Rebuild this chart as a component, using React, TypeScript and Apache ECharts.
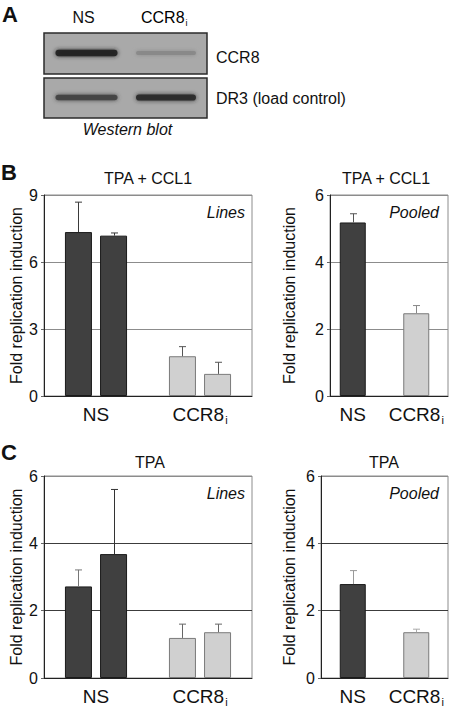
import React, { useEffect, useRef } from 'react';
import * as echarts from 'echarts';

const FONT = "'Liberation Sans', Arial, Helvetica, sans-serif";

// ---------- data ----------
const categories = ['NS', 'CCR8i'];
const yAxisName = 'Fold replication induction';

// Panel A: western blot (lane/row labels, band darkness 0..1)
const blotLanes = ['NS', 'CCR8i'];
const blotRows = ['CCR8', 'DR3 (load control)'];
const blotBandDarkness = [
  [0.95, 0.22],
  [0.72, 0.9],
];

// Panel B: TPA + CCL1
const bTitle = 'TPA + CCL1';
const bLinesTicks = [0, 3, 6, 9];
const bLine1 = [7.34, 1.78];
const bLine1Err = [1.34, 0.43];
const bLine2 = [7.18, 0.99];
const bLine2Err = [0.12, 0.52];
const bPooledTicks = [0, 2, 4, 6];
const bPooled = [5.18, 2.47];
const bPooledErr = [0.26, 0.23];

// Panel C: TPA
const cTitle = 'TPA';
const cLinesTicks = [0, 2, 4, 6];
const cLine1 = [2.72, 1.19];
const cLine1Err = [0.49, 0.41];
const cLine2 = [3.68, 1.36];
const cLine2Err = [1.92, 0.24];
const cPooledTicks = [0, 2, 4, 6];
const cPooled = [2.79, 1.36];
const cPooledErr = [0.4, 0.09];

// ---------- styles ----------
const FILL = ['#404040', '#d0d0d0'];
const BORDER = ['#1a1a1a', '#7a7a7a'];
const TEXT = '#111';

function catLabel(v: string) {
  return v === 'CCR8i' ? '{m|CCR8}{s|i}' : '{m|' + v + '}';
}

function catRich(size: number) {
  return {
    m: { fontSize: size, color: TEXT, fontFamily: FONT, lineHeight: size + 3 },
    s: {
      fontSize: Math.round(size * 0.58),
      color: TEXT,
      fontFamily: FONT,
      lineHeight: Math.round(size * 0.58),
      verticalAlign: 'bottom',
      padding: [0, 0, 0, 1],
    },
  };
}

function xCat(gridIndex: number, showLabel: boolean, showLine: boolean) {
  return {
    type: 'category',
    gridIndex,
    data: categories,
    axisTick: { show: false },
    axisLine: { show: showLine, lineStyle: { color: '#222', width: 1 } },
    axisLabel: {
      show: showLabel,
      interval: 0,
      hideOverlap: false,
      margin: 7,
      formatter: catLabel,
      rich: catRich(19),
    },
    splitLine: { show: false },
  };
}

function yVal(gridIndex: number, ticks: number[], nameGap: number, splitColors: string[] | string, show = true) {
  return {
    type: 'value',
    gridIndex,
    show,
    min: ticks[0],
    max: ticks[ticks.length - 1],
    interval: ticks[1] - ticks[0],
    name: show ? yAxisName : '',
    nameLocation: 'middle',
    nameGap,
    nameTextStyle: { fontSize: 16, color: TEXT, fontFamily: FONT },
    axisLine: { show: true, lineStyle: { color: '#222', width: 1 } },
    axisTick: { show: true, length: 3, lineStyle: { color: '#666' } },
    axisLabel: { fontSize: 16, color: TEXT, fontFamily: FONT, margin: 6 },
    splitLine: { show: true, lineStyle: { color: splitColors, width: 1 } },
  };
}

function barSeries(name: string, values: number[], xAxisIndex: number, barWidth: number) {
  return {
    type: 'bar',
    name,
    xAxisIndex,
    yAxisIndex: xAxisIndex,
    barWidth,
    barGap: '30%',
    z: 3,
    data: values.map((v, i) => ({
      value: v,
      itemStyle: { color: FILL[i], borderColor: BORDER[i], borderWidth: 1 },
    })),
  };
}

function errSeries(values: number[], errs: number[], xAxisIndex: number, offset: number, colors: string[]) {
  return {
    type: 'custom',
    xAxisIndex,
    yAxisIndex: xAxisIndex,
    z: 4,
    silent: true,
    data: values.map((v, i) => [i, v, v + errs[i]]),
    renderItem: (params: any, api: any) => {
      const cat = api.value(0);
      const p0 = api.coord([cat, api.value(1)]);
      const p1 = api.coord([cat, api.value(2)]);
      const x = Math.round(p0[0] + offset) + 0.5;
      const col = colors[params.dataIndex];
      return {
        type: 'group',
        children: [
          { type: 'line', shape: { x1: x, y1: p0[1], x2: x, y2: p1[1] }, style: { stroke: col, lineWidth: 1 } },
          { type: 'line', shape: { x1: x - 3.5, y1: p1[1], x2: x + 3.5, y2: p1[1] }, style: { stroke: col, lineWidth: 1 } },
        ],
      };
    },
  };
}

function txt(text: string, x: number, y: number, size: number, align: string, extra: any = {}) {
  return {
    type: 'text',
    x,
    y,
    z: 10,
    style: {
      text,
      fontSize: size,
      fontFamily: FONT,
      fill: TEXT,
      align,
      verticalAlign: 'middle',
      ...extra,
    },
  };
}

function buildBlot() {
  const els: any[] = [];
  const boxX = 44;
  const boxW = 163;
  const boxY = [33, 78];
  const boxH = [41, 40];
  const laneX = [86.5, 166];
  const laneW = [62, 60];
  blotRows.forEach((row, r) => {
    els.push({
      type: 'rect',
      shape: { x: boxX, y: boxY[r], width: boxW, height: boxH[r] },
      style: { fill: '#a9a9a9', stroke: '#2b2b2b', lineWidth: 1.5 },
      z: 5,
    });
    blotLanes.forEach((_, l) => {
      const d = blotBandDarkness[r][l];
      const g = Math.round(168 - d * 140);
      const col = `rgb(${g},${g},${g})`;
      const h = 3 + d * 3.5;
      const cy = boxY[r] + boxH[r] / 2 - 0.5;
      els.push({
        type: 'rect',
        shape: { x: laneX[l] - laneW[l] / 2, y: cy - h / 2, width: laneW[l], height: h, r: h / 2 },
        style: { fill: col, shadowBlur: 4, shadowColor: col, opacity: 0.95 },
        z: 6,
      });
    });
    els.push(txt(row, 216, r === 0 ? 57 : 98.5, 16, 'left'));
  });
  // lane headers
  els.push(txt(blotLanes[0], 83.5, 17.5, 16, 'center'));
  els.push({
    type: 'text',
    x: 141,
    y: 17.5,
    z: 10,
    style: {
      text: catLabel(blotLanes[1]),
      align: 'left',
      verticalAlign: 'middle',
      rich: catRich(16),
    },
  });
  els.push(txt('Western blot', 127.5, 129, 16, 'center', { fontStyle: 'italic' }));
  return els;
}

export default function App() {
  const ref = useRef<HTMLDivElement>(null);

  useEffect(() => {
    document.body.style.margin = '0';
    if (!ref.current) return;
    const chart = echarts.init(ref.current, undefined, { renderer: 'svg' });

    const bGray = '#8c8c8c';
    const cSplit = ['#3c3c3c', '#3c3c3c', '#3c3c3c', '#8c8c8c'];
    const gridStyle = { show: true, borderColor: bGray, borderWidth: 1, backgroundColor: 'transparent' };

    const option: any = {
      animation: false,
      backgroundColor: '#ffffff',
      textStyle: { fontFamily: FONT },
      grid: [
        { left: 44, top: 195, width: 208, height: 201, ...gridStyle },
        { left: 330, top: 195, width: 118, height: 201, ...gridStyle },
        { left: 321, top: 195, width: 127, height: 201, show: false },
        { left: 44, top: 476, width: 208, height: 202, ...gridStyle },
        { left: 321, top: 476, width: 127, height: 202, ...gridStyle },
      ],
      xAxis: [
        xCat(0, true, true),
        xCat(1, false, true),
        xCat(2, true, false),
        xCat(3, true, true),
        xCat(4, true, true),
      ],
      yAxis: [
        yVal(0, bLinesTicks, 20, bGray),
        yVal(1, bPooledTicks, 33, bGray),
        yVal(2, bPooledTicks, 0, bGray, false),
        yVal(3, cLinesTicks, 20, cSplit),
        yVal(4, cPooledTicks, 24, cSplit),
      ],
      series: [
        barSeries('B line 1', bLine1, 0, 27),
        barSeries('B line 2', bLine2, 0, 27),
        errSeries(bLine1, bLine1Err, 0, -17.55, ['#3a3a3a', '#555']),
        errSeries(bLine2, bLine2Err, 0, 17.55, ['#3a3a3a', '#555']),
        barSeries('B pooled', bPooled, 2, 26),
        errSeries(bPooled, bPooledErr, 2, 0, ['#555', '#888']),
        barSeries('C line 1', cLine1, 3, 27),
        barSeries('C line 2', cLine2, 3, 27),
        errSeries(cLine1, cLine1Err, 3, -17.55, ['#777', '#666']),
        errSeries(cLine2, cLine2Err, 3, 17.55, ['#333', '#666']),
        barSeries('C pooled', cPooled, 4, 26),
        errSeries(cPooled, cPooledErr, 4, 0, ['#999', '#aaa']),
      ],
      graphic: [
        txt('A', 2, 14, 22, 'left', { fontWeight: 'bold' }),
        txt('B', 1, 172, 22, 'left', { fontWeight: 'bold' }),
        txt('C', 1, 452, 22, 'left', { fontWeight: 'bold' }),
        ...buildBlot(),
        txt(bTitle, 148, 178, 16, 'center'),
        txt(bTitle, 386, 178, 16, 'center'),
        txt(cTitle, 150, 462, 16, 'center'),
        txt(cTitle, 384, 462, 16, 'center'),
        txt('Lines', 245, 212, 16, 'right', { fontStyle: 'italic' }),
        txt('Pooled', 439, 212, 16, 'right', { fontStyle: 'italic' }),
        txt('Lines', 245, 493, 16, 'right', { fontStyle: 'italic' }),
        txt('Pooled', 439, 493, 16, 'right', { fontStyle: 'italic' }),
      ],
    };

    chart.setOption(option);
    return () => chart.dispose();
  }, []);

  return <div ref={ref} style={{ width: 450, height: 707 }} />;
}
